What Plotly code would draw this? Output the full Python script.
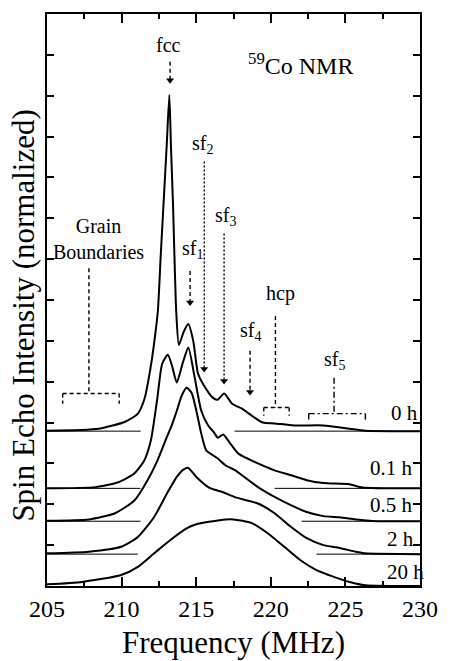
import plotly.graph_objects as go

# ---- data (frequency in MHz, intensity in normalized stacked units) ----
f_0h = [205.00, 208.47, 210.24, 211.09, 211.54, 211.94, 212.20, 212.43, 212.62, 212.82, 213.02, 213.20,
        213.31, 213.44, 213.57, 213.66, 213.84, 214.16, 214.47, 214.80, 215.12, 215.45, 216.11, 216.43,
        216.87, 217.41, 218.07, 218.72, 219.46, 220.25, 221.56, 223.52, 225.27, 226.34, 230.00]
i_0h = [3.80, 3.85, 4.02, 4.22, 4.59, 5.34, 6.00, 6.73, 8.07, 9.41, 10.76, 12.02,
        10.73, 9.41, 7.71, 6.73, 5.90, 6.22, 6.41, 6.00, 5.20, 4.95, 4.61, 4.56,
        4.71, 4.46, 4.34, 4.17, 4.00, 3.98, 3.93, 3.93, 3.85, 3.80, 3.79]

f_01h = [205.00, 208.25, 209.78, 210.87, 211.52, 211.96, 212.18, 212.40, 212.72, 213.10, 213.38, 213.70,
         214.10, 214.47, 214.90, 215.34, 215.80, 216.19, 216.45, 216.81, 217.24, 217.83, 219.14, 220.25,
         221.36, 222.41, 223.52, 225.27, 226.14, 230.00]
i_01h = [2.39, 2.42, 2.54, 2.76, 3.07, 3.56, 4.05, 4.61, 5.44, 5.66, 5.39, 4.98,
         5.46, 5.84, 5.10, 4.29, 3.93, 3.76, 3.63, 3.71, 3.51, 3.24, 3.00, 2.83,
         2.71, 2.59, 2.52, 2.49, 2.41, 2.39]

f_05h = [205.00, 207.81, 209.56, 210.87, 211.74, 212.40, 213.05, 213.38, 213.70, 214.03, 214.36, 214.69,
         215.01, 215.34, 215.67, 216.13, 216.45, 216.98, 217.63, 218.07, 219.14, 220.25, 221.34, 222.41,
         223.52, 224.61, 225.68, 226.79, 230.00]
i_05h = [1.60, 1.63, 1.78, 2.10, 2.59, 3.07, 3.66, 3.95, 4.29, 4.66, 4.85, 4.73,
         4.29, 3.73, 3.32, 3.20, 3.12, 2.95, 2.83, 2.71, 2.42, 2.18, 1.98, 1.81,
         1.71, 1.68, 1.63, 1.59, 1.585]

f_2h = [205.00, 207.81, 209.97, 211.09, 212.18, 213.05, 213.70, 214.14, 214.47, 215.01, 215.86, 216.76,
        217.63, 219.14, 220.25, 221.34, 222.41, 223.52, 224.61, 225.68, 226.34, 230.00]
i_2h = [0.80, 0.84, 0.96, 1.20, 1.69, 2.27, 2.67, 2.85, 2.89, 2.67, 2.41, 2.30,
        2.17, 2.02, 1.78, 1.45, 1.17, 1.00, 0.93, 0.84, 0.80, 0.78]

f_20h = [205.00, 207.36, 209.97, 211.09, 212.18, 213.25, 214.36, 215.01, 215.86, 216.98, 217.50, 218.72,
         219.79, 220.90, 221.99, 223.06, 224.18, 225.27, 226.34, 230.00]
i_20h = [0.04, 0.10, 0.27, 0.47, 0.80, 1.12, 1.41, 1.51, 1.57, 1.63, 1.63, 1.54,
         1.29, 0.96, 0.63, 0.39, 0.23, 0.10, 0.02, 0.00]

curve_labels = ["0 h", "0.1 h", "0.5 h", "2 h", "20 h"]
curve_label_levels = [4.24, 2.88, 1.98, 1.15, 0.34]
baseline_levels = [3.79, 2.39, 1.585, 0.78]
baseline_left_end = [211.28, 211.26, 211.26, 211.09]
baseline_right_start = [217.57, 220.25, 222.06, 223.06]

x_ticks = [205, 210, 215, 220, 225, 230]

BLACK = "black"
SERIF = "Liberation Serif, Times New Roman, serif"

fig = go.Figure()

# baselines (thin)
for lvl, le, rs in zip(baseline_levels, baseline_left_end, baseline_right_start):
    fig.add_trace(go.Scatter(x=[205, le], y=[lvl, lvl], mode="lines",
                             line=dict(color=BLACK, width=1), hoverinfo="skip", showlegend=False))
    fig.add_trace(go.Scatter(x=[rs, 230], y=[lvl, lvl], mode="lines",
                             line=dict(color=BLACK, width=1), hoverinfo="skip", showlegend=False))

# spectra
for fx, iy in [(f_0h, i_0h), (f_01h, i_01h), (f_05h, i_05h), (f_2h, i_2h), (f_20h, i_20h)]:
    fig.add_trace(go.Scatter(x=fx, y=iy, mode="lines",
                             line=dict(color=BLACK, width=2, shape="spline", smoothing=0.6),
                             showlegend=False))

shapes = []
annotations = []
head_x, head_y = [], []

def vline(x, y0, y1, dash, w=1.4):
    shapes.append(dict(type="line", x0=x, x1=x, y0=y0, y1=y1, xref="x", yref="y",
                       line=dict(color=BLACK, width=w, dash=dash)))

def hline(x0, x1, y, dash, w=1.4):
    shapes.append(dict(type="line", x0=x0, x1=x1, y0=y, y1=y, xref="x", yref="y",
                       line=dict(color=BLACK, width=w, dash=dash)))

def arrowhead(x, y):
    head_x.append(x)
    head_y.append(y + 0.09)

def label(x, y, text, size=20, xanchor="center", xshift=0):
    annotations.append(dict(x=x, y=y, xref="x", yref="y", text=text, showarrow=False,
                            xanchor=xanchor, yanchor="middle", xshift=xshift,
                            font=dict(family=SERIF, size=size, color=BLACK)))

DASH = "4px,3px"
DOT = "2px,2px"
DASHDOT = "6px,3px,2px,3px"

# fcc
label(213.12, 13.24, "fcc")
vline(213.25, 12.83, 12.35, DASH)
arrowhead(213.25, 12.29)
# 59Co NMR
label(222.0, 12.78, "<sup>59</sup>Co NMR", size=24)
# sf2
label(215.40, 10.80, "sf<sub>2</sub>")
vline(215.54, 10.39, 5.35, DOT)
arrowhead(215.54, 5.22)
# sf3
label(216.95, 9.05, "sf<sub>3</sub>")
vline(216.87, 8.63, 5.05, DOT)
arrowhead(216.87, 4.93)
# sf1
label(214.75, 8.24, "sf<sub>1</sub>")
vline(214.59, 7.71, 6.95, DASH)
arrowhead(214.59, 6.85)
# sf4
label(218.65, 6.24, "sf<sub>4</sub>")
vline(218.61, 5.76, 4.78, DASH)
arrowhead(218.61, 4.66)
# hcp
label(220.64, 7.17, "hcp")
vline(220.31, 6.61, 4.37, DASH)
hline(219.53, 221.23, 4.37, DASH)
vline(219.53, 4.37, 4.17, DASH)
vline(221.23, 4.37, 4.17, DASH)
# sf5
label(224.25, 5.51, "sf<sub>5</sub>")
vline(224.24, 5.10, 4.22, DASHDOT)
hline(222.54, 226.34, 4.22, DASHDOT)
vline(222.54, 4.22, 4.00, DASHDOT)
vline(226.34, 4.22, 4.00, DASHDOT)
# Grain boundaries
label(208.47, 8.50, "Grain<br>Boundaries")
vline(207.81, 7.78, 4.71, DASH)
hline(206.05, 209.84, 4.71, DASH)
vline(206.05, 4.71, 4.46, DASH)
vline(209.84, 4.71, 4.46, DASH)

# arrow heads
fig.add_trace(go.Scatter(x=head_x, y=head_y, mode="markers",
                         marker=dict(symbol="triangle-down", size=7, color=BLACK),
                         hoverinfo="skip", showlegend=False))

# curve labels (right-aligned near the right frame)
label_shifts = [0, -5, -5, -4, 6]
for ly, t, sh in zip(curve_label_levels, curve_labels, label_shifts):
    label(230.0, ly, t, size=21, xanchor="right", xshift=sh)

# axis titles
annotations.append(dict(x=0.5, y=-0.098, xref="paper", yref="paper", text="Frequency (MHz)",
                        showarrow=False, xanchor="center", yanchor="middle",
                        font=dict(family=SERIF, size=31, color=BLACK)))
annotations.append(dict(x=-0.0654, y=0.472, xref="paper", yref="paper",
                        text="Spin Echo Intensity (normalized)", textangle=-90,
                        showarrow=False, xanchor="center", yanchor="middle",
                        font=dict(family=SERIF, size=31, color=BLACK)))

fig.update_layout(
    width=450, height=661,
    margin=dict(l=47, r=21, t=12, b=75),
    paper_bgcolor="white", plot_bgcolor="white",
    shapes=shapes, annotations=annotations,
    showlegend=False,
)
fig.update_xaxes(range=[205, 230], tickvals=x_ticks, ticktext=[str(v) for v in x_ticks],
                 ticks="inside", ticklen=9, tickwidth=1.5, tickcolor=BLACK,
                 minor=dict(dtick=2.5, tick0=205, ticks="inside", ticklen=5, tickwidth=1.5, tickcolor=BLACK),
                 showline=True, linewidth=2, linecolor=BLACK, mirror="ticks",
                 showgrid=False, zeroline=False,
                 tickfont=dict(family=SERIF, size=24, color=BLACK))
fig.update_yaxes(range=[0, 14], dtick=1, tick0=0, ticks="inside", ticklen=7, tickwidth=1.5,
                 tickcolor=BLACK, showticklabels=False,
                 showline=True, linewidth=2, linecolor=BLACK, mirror="ticks",
                 showgrid=False, zeroline=False)

fig.write_html("out.html")
